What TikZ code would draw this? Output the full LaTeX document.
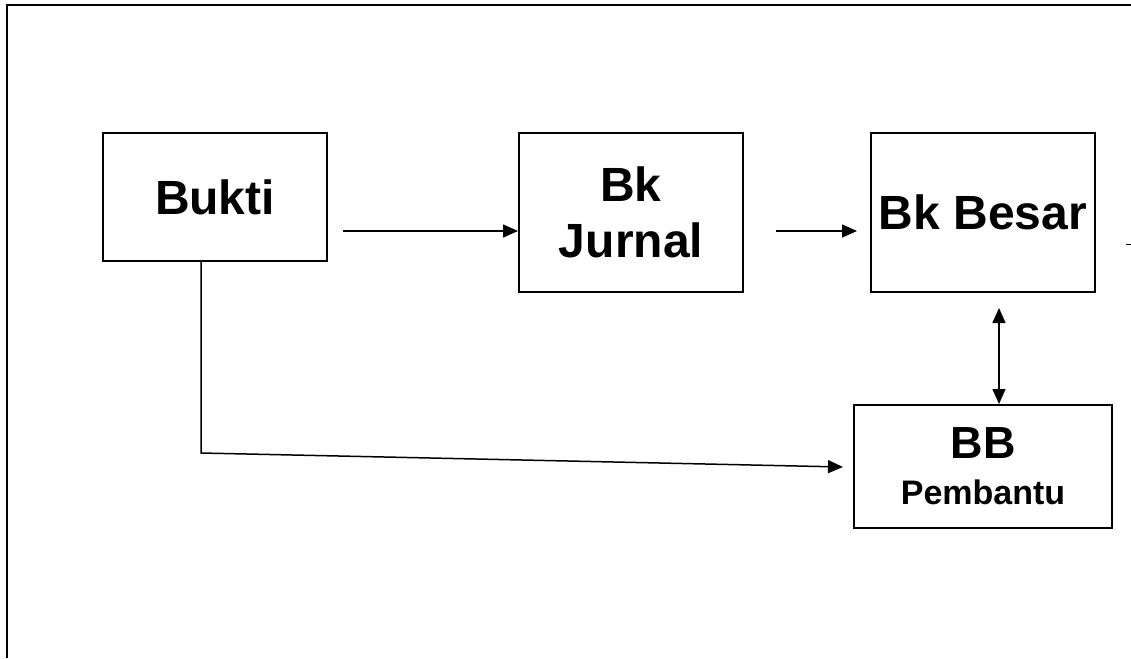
\documentclass[tikz,border=0pt]{standalone}
\usepackage{fontspec}
\setmainfont{Liberation Sans}
\usetikzlibrary{arrows.meta}
\tikzset{
  boxn/.style={draw, line width=2pt, inner sep=0pt, align=center},
  bigtxt/.style={font=\bfseries\fontsize{48}{56}\selectfont},
  arr/.style={line width=1.5pt, -{Triangle[length=15pt,width=13pt]}},
  darr/.style={line width=1.5pt, {Triangle[length=15pt,width=13pt]}-{Triangle[length=15pt,width=13pt]}},
  frame/.style={line width=2.2pt}
}
\begin{document}
\begin{tikzpicture}[x=1pt,y=-1pt]
\useasboundingbox (0,0) rectangle (1131,658);
% frame
\coordinate (ftr) at (1131,5);
\coordinate (ftl) at (7,5);
\coordinate (fbl) at (7,658);
\draw[frame] (ftr) -- (ftl) -- (fbl);
% boxes
\node[boxn, bigtxt, minimum width=224pt, minimum height=128pt] (bukti) at (215,197) {Bukti};
\node[boxn, bigtxt, minimum width=224pt, minimum height=159pt] (bj) at (631,212.5) {Bk\\Jurnal};
\node[boxn, bigtxt, minimum width=224pt, minimum height=159pt] (bb) at (983,212.5) {Bk Besar};
\node[boxn, minimum width=258pt, minimum height=123pt, font=\bfseries\fontsize{34}{46}\selectfont] (bbp) at (983,466.5) {{\fontsize{45}{46}\selectfont BB}\\Pembantu};
% connectors
\coordinate (a1) at (343,231);
\draw[arr] (a1) -- (a1 -| bj.west);
\coordinate (c1) at (776,231);
\coordinate (c2) at (857,231);
\draw[arr] (c1) -- (c2);
\coordinate (d1) at (999,308);
\draw[darr] (d1) -- (d1 |- bbp.north);
\coordinate (e0) at (201,453);
\coordinate (e1) at (843,467);
\draw[arr] (bukti.south -| e0) -- (e0) -- (e1);
\coordinate (t1) at (1126,244);
\coordinate (t2) at (1131,244);
\draw[line width=1pt] (t1) -- (t2);
\end{tikzpicture}
\end{document}
